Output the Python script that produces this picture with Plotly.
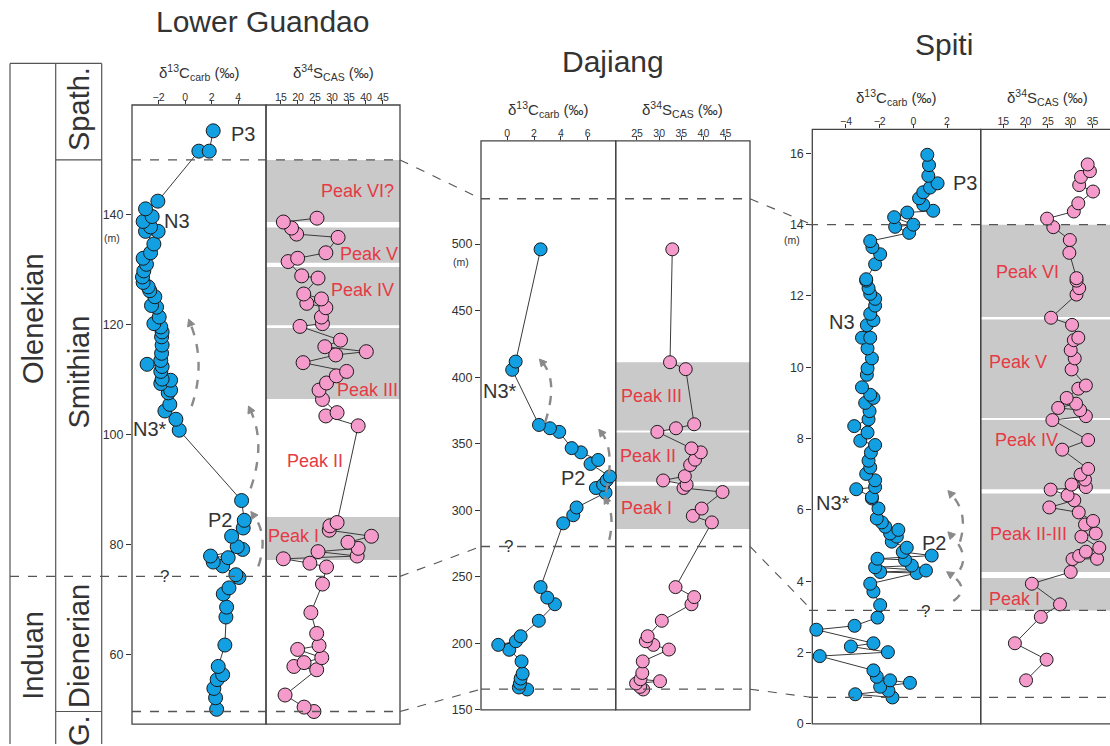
import plotly.graph_objects as go

W, H = 1110, 746
FONT = "Arial, Liberation Sans, sans-serif"
INK = "#333333"
FRAME = "#444444"
BLUE = "#12a0e3"
PINK = "#f59bcb"
RED = "#e53a45"
BAND = "#c9c9c9"
DASH_GREY = "#555555"
ARC_GREY = "#8a8a8a"

# ---------------- Lower Guandao ----------------
lg_c_depth = [155.3, 151.6, 151.6, 142.5, 141.1, 139.7, 138.8, 137.8, 137.0, 137.0, 134.7, 133.1,
              132.1, 131.0, 129.8, 128.7, 127.7, 126.9, 126.2, 125.1, 123.5, 123.2, 121.4, 120.2,
              119.6, 118.7, 117.8, 116.3, 114.8, 113.5, 112.8, 112.4, 111.5, 110.1, 109.9, 109.3,
              108.1, 107.6, 105.5, 104.3, 102.8, 100.8, 88.0, 84.4, 83.0, 81.5, 79.6, 79.1, 77.9,
              77.6, 76.8, 76.1, 74.5, 74.0, 72.1, 71.0, 68.6, 66.8, 61.7, 57.8, 56.3, 55.4, 53.8,
              52.1, 50.0]
lg_c_val = [2.12, 1.04, 1.82, -2.05, -2.98, -2.48, -3.16, -2.60, -2.98, -2.03, -2.35, -2.60,
            -3.16, -2.91, -3.11, -3.21, -3.16, -2.78, -2.66, -2.28, -2.53, -2.15, -1.95, -2.35,
            -1.83, -1.73, -1.77, -1.73, -1.77, -1.83, -2.86, -1.73, -1.83, -1.73, -1.09, -1.83,
            -1.09, -1.27, -1.15, -1.52, -0.69, -0.44, 4.26, 4.46, 4.38, 3.51, 3.93, 4.34, 1.92,
            3.25, 2.12, 2.83, 3.83, 4.06, 3.31, 2.88, 3.13, 3.08, 3.00, 2.50, 2.83, 2.42, 2.17,
            2.30, 2.38]
lg_s_depth = [139.4, 138.7, 137.6, 136.5, 135.9, 133.1, 132.1, 131.5, 128.9, 128.5, 125.6, 124.7,
              123.9, 123.1, 121.4, 120.2, 119.7, 117.2, 116.0, 115.1, 114.5, 113.1, 111.5, 110.7,
              109.4, 108.1, 106.4, 104.0, 103.4, 101.6, 84.0, 83.4, 82.6, 81.5, 80.4, 79.3, 78.7,
              77.9, 77.4, 76.6, 75.9, 72.8, 67.6, 63.8, 61.6, 60.9, 59.4, 58.5, 57.8, 57.2, 52.6,
              50.4, 49.6]
lg_s_val = [25.6, 15.7, 18.1, 19.6, 31.8, 28.2, 19.9, 17.1, 21.1, 25.9, 21.7, 26.9,
            22.6, 28.2, 26.9, 27.2, 20.6, 32.5, 27.9, 40.1, 31.1, 21.5, 34.3, 31.3,
            28.4, 26.2, 27.2, 31.5, 28.2, 37.7, 31.5, 29.4, 29.2, 41.6, 34.7, 37.7, 25.9,
            37.4, 15.7, 23.5, 28.4, 27.2, 23.8, 25.5, 26.2, 19.9, 27.0, 21.8, 18.8, 25.5, 16.2,
            21.8, 24.7]
lg_bands = [(77.2, 85.0), (106.5, 119.4), (119.9, 130.5), (131.3, 137.7), (138.7, 150.0)]
lg_band_labels = ["Peak I", "Peak III", "Peak IV", "Peak V", "Peak VI?"]
lg_bounds = [150.0, 74.2, 49.6]
lg_yticks = [60, 80, 100, 120, 140]

# ---------------- Dajiang ----------------
dj_c_depth = [496.0, 411.7, 405.5, 364.1, 361.6, 358.9, 346.7, 343.5, 337.8, 334.8, 325.4, 322.4,
              319.2, 316.7, 313.2, 302.1, 296.3, 290.2, 242.3, 234.4, 229.4, 217.0, 205.4, 201.6,
              198.9, 195.2, 186.5, 177.3, 173.6, 169.9, 166.9, 165.4]
dj_c_val = [2.49, 0.63, 0.37, 2.37, 3.19, 3.88, 4.81, 5.50, 6.79, 6.22, 7.66, 7.42,
            7.16, 6.62, 7.34, 5.18, 4.93, 4.18, 2.49, 2.99, 3.56, 2.36, 1.00, 0.65,
            -0.67, 0.15, 1.07, 1.15, 1.00, 0.95, 0.87, 1.49]
dj_s_depth = [496.0, 411.2, 406.0, 364.6, 361.6, 358.9, 346.5, 343.5, 338.0, 334.0, 325.6, 322.4,
              319.2, 316.7, 313.7, 301.3, 295.8, 290.9, 242.3, 234.8, 229.4, 217.0, 205.4, 201.6,
              198.9, 195.4, 186.5, 177.8, 173.1, 171.6, 169.9, 167.4, 165.4]
dj_s_val = [32.97, 32.45, 36.0, 37.9, 33.8, 29.6, 37.3, 39.4, 38.1, 37.0, 35.8, 30.9,
            36.2, 35.5, 44.3, 39.6, 37.6, 41.9, 33.7, 37.9, 37.3, 30.6, 27.4, 27.0,
            28.7, 32.2, 26.3, 26.2, 25.8, 30.2, 24.8, 25.7, 26.4]
dj_bands = [(286.0, 318.5), (321.5, 358.5), (360.0, 411.2)]
dj_band_labels = ["Peak I", "Peak II", "Peak III"]
dj_bounds = [534.0, 272.8, 165.6]
dj_yticks = [150, 200, 250, 300, 350, 400, 450, 500]

# ---------------- Spiti ----------------
sp_c_depth = [15.96, 15.67, 15.37, 15.16, 15.04, 14.91, 14.74, 14.56, 14.39, 14.34, 14.21, 14.00,
              13.94, 13.77, 13.54, 13.37, 13.17, 12.89, 12.47, 12.43, 12.22, 12.06, 11.92, 11.73,
              11.50, 11.32, 11.18, 10.83, 10.83, 10.53, 10.25, 9.97, 9.79, 9.44, 9.23, 9.14, 9.00,
              8.77, 8.54, 8.35, 8.17, 7.94, 7.82, 7.61, 7.38, 7.19, 7.01, 6.83, 6.64, 6.58, 6.36,
              6.32, 6.04, 5.76, 5.65, 5.53, 5.44, 5.34, 5.25, 5.11, 4.94, 4.82, 4.72, 4.63, 4.60,
              4.44, 4.39, 4.30, 4.26, 4.23, 3.93, 3.71, 3.33, 2.98, 2.75, 2.64, 2.26, 2.17, 2.01,
              1.90, 1.50, 1.32, 1.22, 1.15, 1.04, 0.93, 0.83, 0.74]
sp_c_val = [0.83, 0.93, 0.89, 1.44, 0.99, 0.59, 0.34, 0.59, 1.18, -0.36, -1.14, 0.00,
            -1.08, -0.25, -2.56, -2.43, -1.97, -2.27, -2.80, -2.80, -2.66, -2.56, -2.27, -2.27,
            -2.56, -2.37, -2.76, -3.05, -2.56, -2.72, -2.46, -2.72, -2.76, -3.05, -2.56, -2.37, -2.86,
            -2.60, -2.66, -3.51, -2.72, -3.15, -2.27, -2.52, -2.66, -2.56, -2.80, -2.27, -2.27, -3.39, -2.46,
            -2.46, -2.07, -2.17, -1.87, -1.67, -0.89, -1.38, -0.98, -1.28, -0.39, -0.63, 1.09, -2.13, -0.49,
            -0.09, -2.27, 0.75, -1.97, 0.20, -2.56, -2.37, -1.97, -2.13, -3.49, -5.76, -2.37, -3.71, -1.51,
            -5.56, -2.37, -2.17, -1.38, -0.20, -1.97, -1.48, -3.45, -1.24]
sp_s_depth = [15.69, 15.50, 15.34, 15.11, 14.93, 14.60, 14.37, 14.17, 13.93, 13.57, 13.21, 12.50,
              12.43, 12.22, 12.04, 11.39, 11.19, 10.83, 10.76, 10.48, 10.25, 9.94, 9.49, 9.40,
              9.14, 8.98, 8.86, 8.80, 8.63, 8.52, 7.96, 7.69, 7.15, 6.99, 6.85, 6.71, 6.64, 6.57,
              6.41, 6.27, 6.07, 5.93, 5.69, 5.59, 5.34, 5.25, 4.94, 4.83, 4.71, 4.63, 4.62, 4.26,
              3.93, 3.35, 3.00, 2.26, 1.80, 1.22]
sp_s_val = [33.9, 34.4, 32.4, 32.0, 35.1, 31.8, 30.8, 24.8, 26.2, 29.9, 29.8, 31.4,
            31.4, 32.0, 31.4, 25.7, 30.4, 31.8, 30.8, 30.1, 31.0, 30.3, 33.5, 31.8,
            29.2, 31.3, 27.3, 32.2, 33.5, 26.0, 34.0, 28.2, 34.0, 32.3, 33.3, 30.3, 33.5, 25.6,
            29.4, 30.9, 25.3, 31.9, 35.1, 33.3, 35.7, 32.5, 36.5, 33.5, 32.0, 36.0, 30.5, 30.1,
            21.4, 27.7, 23.4, 17.6, 24.7, 20.1]
sp_bands = [(3.18, 4.09), (4.26, 6.46), (6.58, 8.52), (8.58, 11.34), (11.41, 14.0)]
sp_band_labels = ["Peak I", "Peak II-III", "Peak IV", "Peak V", "Peak VI"]
sp_bounds = [14.0, 3.18, 0.74]
sp_yticks = [0, 2, 4, 6, 8, 10, 12, 14, 16]


def fx(px):
    return px / W


def fy(py):
    return 1 - py / H


def label(px, py, text, size, color=INK, angle=0):
    return dict(x=fx(px), y=fy(py), xref="paper", yref="paper", text=text,
                xanchor="center", yanchor="middle", textangle=angle, showarrow=False,
                font=dict(family=FONT, size=size, color=color))


# panel geometry (pixels) and axis ranges per section
sections = [
    dict(name="Lower Guandao", c=(132, 266), s=(266, 400), top=106, bot=731,
         yr=(47.3, 160.0), cr=(-4.0, 6.1), sr=(10.6, 50.0), cticks=[-2, 0, 2, 4],
         sticks=[15, 20, 25, 30, 35, 40, 45], yticks=lg_yticks, msize=14,
         cd=lg_c_depth, cv=lg_c_val, sd=lg_s_depth, sv=lg_s_val, bands=lg_bands,
         bounds=lg_bounds, title_xy=(262.7, 22), axt_y=73, munit_y=240,
         frame_right=True),
    dict(name="Dajiang", c=(481, 615.7), s=(615.7, 750), top=142.3, bot=716.7,
         yr=(150.0, 577.4), cr=(-1.96, 8.1), sr=(20.2, 50.5), cticks=[0, 2, 4, 6],
         sticks=[25, 30, 35, 40, 45], yticks=dj_yticks, msize=13,
         cd=dj_c_depth, cv=dj_c_val, sd=dj_s_depth, sv=dj_s_val, bands=dj_bands,
         bounds=dj_bounds, title_xy=(613, 62), axt_y=111, munit_y=264,
         frame_right=True),
    dict(name="Spiti", c=(812.3, 980.7), s=(980.7, 1110), top=130.7, bot=730.7,
         yr=(0.0, 16.67), cr=(-6.0, 4.0), sr=(9.94, 38.9), cticks=[-4, -2, 0, 2],
         sticks=[15, 20, 25, 30, 35], yticks=sp_yticks, msize=13,
         cd=sp_c_depth, cv=sp_c_val, sd=sp_s_depth, sv=sp_s_val, bands=sp_bands,
         bounds=sp_bounds, title_xy=(944, 45), axt_y=98, munit_y=242.3,
         frame_right=False),
]


def depth_to_py(sec, d):
    lo, hi = sec["yr"]
    return sec["bot"] - (d - lo) / (hi - lo) * (sec["bot"] - sec["top"])


fig = go.Figure()
shapes = []
annotations = []
layout_axes = {}

for i, sec in enumerate(sections):
    cx_name = "x" if i == 0 else f"x{2 * i + 1}"
    sx_name = f"x{2 * i + 2}"
    y_name = "y" if i == 0 else f"y{i + 1}"
    cx_key = "xaxis" if i == 0 else f"xaxis{2 * i + 1}"
    sx_key = f"xaxis{2 * i + 2}"
    y_key = "yaxis" if i == 0 else f"yaxis{i + 1}"

    ydom = [fy(sec["bot"]), fy(sec["top"])]
    xcommon = dict(side="top", anchor=y_name, showgrid=False, zeroline=False, showline=False,
                   ticks="outside", ticklen=4, tickwidth=1, tickcolor=INK,
                   ticklabelstandoff=-5,
                   tickfont=dict(family=FONT, size=10.5, color=INK), fixedrange=True)
    layout_axes[cx_key] = dict(xcommon, domain=[fx(sec["c"][0]), fx(sec["c"][1])],
                               range=list(sec["cr"]), tickvals=sec["cticks"])
    layout_axes[sx_key] = dict(xcommon, domain=[fx(sec["s"][0]), fx(sec["s"][1])],
                               range=list(sec["sr"]), tickvals=sec["sticks"])
    layout_axes[y_key] = dict(domain=ydom, anchor=cx_name, range=list(sec["yr"]),
                              showgrid=False, zeroline=False, showline=False,
                              ticks="outside", ticklen=5, tickwidth=1, tickcolor=INK,
                              tickvals=sec["yticks"],
                              tickfont=dict(family=FONT, size=12.5, color=INK), fixedrange=True)

    # grey peak bands in the sulfur panel
    for (b0, b1) in sec["bands"]:
        shapes.append(dict(type="rect", xref=f"{sx_name} domain", yref=y_name,
                           x0=0, x1=1, y0=b0, y1=b1, fillcolor=BAND,
                           line=dict(width=0), layer="below"))

    # panel frames
    for (pl, pr), right in ((sec["c"], True), (sec["s"], sec["frame_right"])):
        x1 = pr if right else pr + 40
        shapes.append(dict(type="rect", xref="paper", yref="paper",
                           x0=fx(pl), x1=fx(x1), y0=fy(sec["bot"]), y1=fy(sec["top"]),
                           line=dict(color=FRAME, width=1.3), layer="below"))

    # carbon and sulfur isotope profiles
    cpts = sorted(zip(sec["cd"], sec["cv"]), key=lambda t: t[0])
    spts = sorted(zip(sec["sd"], sec["sv"]), key=lambda t: t[0])
    fig.add_trace(go.Scatter(
        x=[p[1] for p in cpts], y=[p[0] for p in cpts], xaxis=cx_name, yaxis=y_name,
        mode="lines+markers", cliponaxis=False, showlegend=False,
        line=dict(color="#3a3a3a", width=1),
        marker=dict(size=sec["msize"], color=BLUE, line=dict(color="#1a1a1a", width=1))))
    fig.add_trace(go.Scatter(
        x=[p[1] for p in spts], y=[p[0] for p in spts], xaxis=sx_name, yaxis=y_name,
        mode="lines+markers", cliponaxis=False, showlegend=False,
        line=dict(color="#3a3a3a", width=1),
        marker=dict(size=sec["msize"], color=PINK, line=dict(color="#1a1a1a", width=1))))

    # section title and axis titles
    tx, ty = sec["title_xy"]
    annotations.append(label(tx, ty, sec["name"], 30))
    for (pl, pr), txt in ((sec["c"], "δ<sup>13</sup>C<sub>carb</sub> (‰)"),
                          (sec["s"], "δ<sup>34</sup>S<sub>CAS</sub> (‰)")):
        pr_eff = pr if pr < W else pl + 134
        annotations.append(label((pl + pr_eff) / 2, sec["axt_y"], txt, 15))
    annotations.append(label(sec["c"][0] - 20, sec["munit_y"], "(m)", 10.5))

# ---------------- section boundaries ----------------
lg, dj, sp = sections
bound_spans = [
    (lg, lg_bounds[0], 132, 400), (lg, lg_bounds[1], 10, 400), (lg, lg_bounds[2], 132, 400),
    (dj, dj_bounds[0], 481, 750), (dj, dj_bounds[1], 481, 750), (dj, dj_bounds[2], 481, 750),
    (sp, sp_bounds[0], 809, 1110), (sp, sp_bounds[1], 809, 1110), (sp, sp_bounds[2], 809, 1110),
]
for sec, d, x0, x1 in bound_spans:
    py = depth_to_py(sec, d)
    shapes.append(dict(type="line", xref="paper", yref="paper", x0=fx(x0), x1=fx(x1),
                       y0=fy(py), y1=fy(py), line=dict(color=DASH_GREY, width=1.3, dash="dash")))

# correlation lines between sections
for a, b, xa, xb in ((lg, dj, 400, 481), (dj, sp, 750, 812.3)):
    for k in range(3):
        ya = depth_to_py(a, a["bounds"][k])
        yb = depth_to_py(b, b["bounds"][k])
        shapes.append(dict(type="line", xref="paper", yref="paper", x0=fx(xa), x1=fx(xb),
                           y0=fy(ya), y1=fy(yb),
                           line=dict(color=DASH_GREY, width=1.1, dash="dash")))

# ---------------- stratigraphic column ----------------
COL = "#555555"
col_l, col_m, col_r, col_top = 10, 55.7, 101.7, 64
for xx in (col_l, col_m, col_r):
    shapes.append(dict(type="line", xref="paper", yref="paper", x0=fx(xx), x1=fx(xx),
                       y0=fy(col_top), y1=fy(H + 5), line=dict(color=COL, width=1.2)))
shapes.append(dict(type="line", xref="paper", yref="paper", x0=fx(col_l), x1=fx(col_r),
                   y0=fy(col_top), y1=fy(col_top), line=dict(color=COL, width=1.2)))
for d in (lg_bounds[0], lg_bounds[2]):
    py = depth_to_py(lg, d)
    shapes.append(dict(type="line", xref="paper", yref="paper", x0=fx(col_m), x1=fx(col_r),
                       y0=fy(py), y1=fy(py), line=dict(color=COL, width=1.2)))

col_labels = [
    ("Olenekian", 33, 322), ("Induan", 33, 662),
    ("Spath.", 79, 110), ("Smithian", 79, 376), ("Dienerian", 79, 652), ("G.", 79, 738),
]
for txt, px, py in col_labels:
    annotations.append(label(px, py, txt, 29, angle=-90))

# ---------------- excursion labels ----------------
black_labels = [
    ("P3", 243.3, 135), ("N3", 177, 223), ("N3*", 150, 432.7), ("P2", 220, 525),
    ("N3*", 500, 395), ("P2", 573, 482.7),
    ("P3", 964.5, 185), ("N3", 841.5, 325), ("N3*", 833, 507.5), ("P2", 934, 548.3),
]
for txt, px, py in black_labels:
    annotations.append(label(px, py, txt, 20))
for px, py in ((164, 581.7), (508.3, 551.7), (925.7, 617.3)):
    annotations.append(label(px, py, "?", 17))

peak_pos = {
    "lg": [(293, 540.7), (367, 394), (362, 292.3), (369, 256.7), (357, 192.7)],
    "dj": [(646, 512.7), (648, 460), (651.7, 400)],
    "sp": [(1014, 605), (1028.5, 539.3), (1026, 444), (1018, 365), (1027, 275)],
}
for key, labels in (("lg", lg_band_labels), ("dj", dj_band_labels), ("sp", sp_band_labels)):
    for txt, (px, py) in zip(labels, peak_pos[key]):
        annotations.append(label(px, py, txt, 18, RED))
annotations.append(label(314.5, 465.3, "Peak II", 18, RED))

# ---------------- curved trend arrows ----------------
arcs = [
    ((191.7, 410), (198.3, 366.7), (189.3, 324)),
    ((258.3, 571.7), (262, 543), (252, 518)),
    ((250.7, 493), (258, 450), (249.3, 411.7)),
    ((545, 426.7), (550.7, 390), (540.7, 364)),
    ((609.3, 545), (611, 522), (605, 503)),
    ((606, 497), (609, 460), (600, 435)),
    ((953.3, 606.7), (961, 593.3), (948.3, 578.3)),
    ((960, 575), (962, 558), (949.3, 538.3)),
    ((960, 546.7), (961.7, 520), (949.3, 496.7)),
]
for p0, b, p1 in arcs:
    cx = 2 * b[0] - (p0[0] + p1[0]) / 2
    cy = 2 * b[1] - (p0[1] + p1[1]) / 2
    # unit vector along the curve at its end, and its normal
    ux, uy = p1[0] - cx, p1[1] - cy
    n = (ux * ux + uy * uy) ** 0.5
    ux, uy = ux / n, uy / n
    vx, vy = -uy, ux
    end = (p1[0] - ux * 3, p1[1] - uy * 3)
    path = (f"M {fx(p0[0])},{fy(p0[1])} Q {fx(cx)},{fy(cy)} {fx(end[0])},{fy(end[1])}")
    shapes.append(dict(type="path", xref="paper", yref="paper", path=path,
                       line=dict(color=ARC_GREY, width=2.4, dash="dash")))
    tip = (p1[0] + ux * 2, p1[1] + uy * 2)
    bl = (p1[0] - ux * 5 + vx * 3.8, p1[1] - uy * 5 + vy * 3.8)
    br = (p1[0] - ux * 5 - vx * 3.8, p1[1] - uy * 5 - vy * 3.8)
    head = (f"M {fx(tip[0])},{fy(tip[1])} L {fx(bl[0])},{fy(bl[1])} "
            f"L {fx(br[0])},{fy(br[1])} Z")
    shapes.append(dict(type="path", xref="paper", yref="paper", path=head,
                       fillcolor=ARC_GREY, line=dict(color=ARC_GREY, width=1)))

fig.update_layout(
    width=W, height=H, margin=dict(l=0, r=0, t=0, b=0),
    paper_bgcolor="white", plot_bgcolor="rgba(0,0,0,0)",
    showlegend=False, shapes=shapes, annotations=annotations,
    font=dict(family=FONT, color=INK),
    **layout_axes,
)

fig.write_html("out.html")
